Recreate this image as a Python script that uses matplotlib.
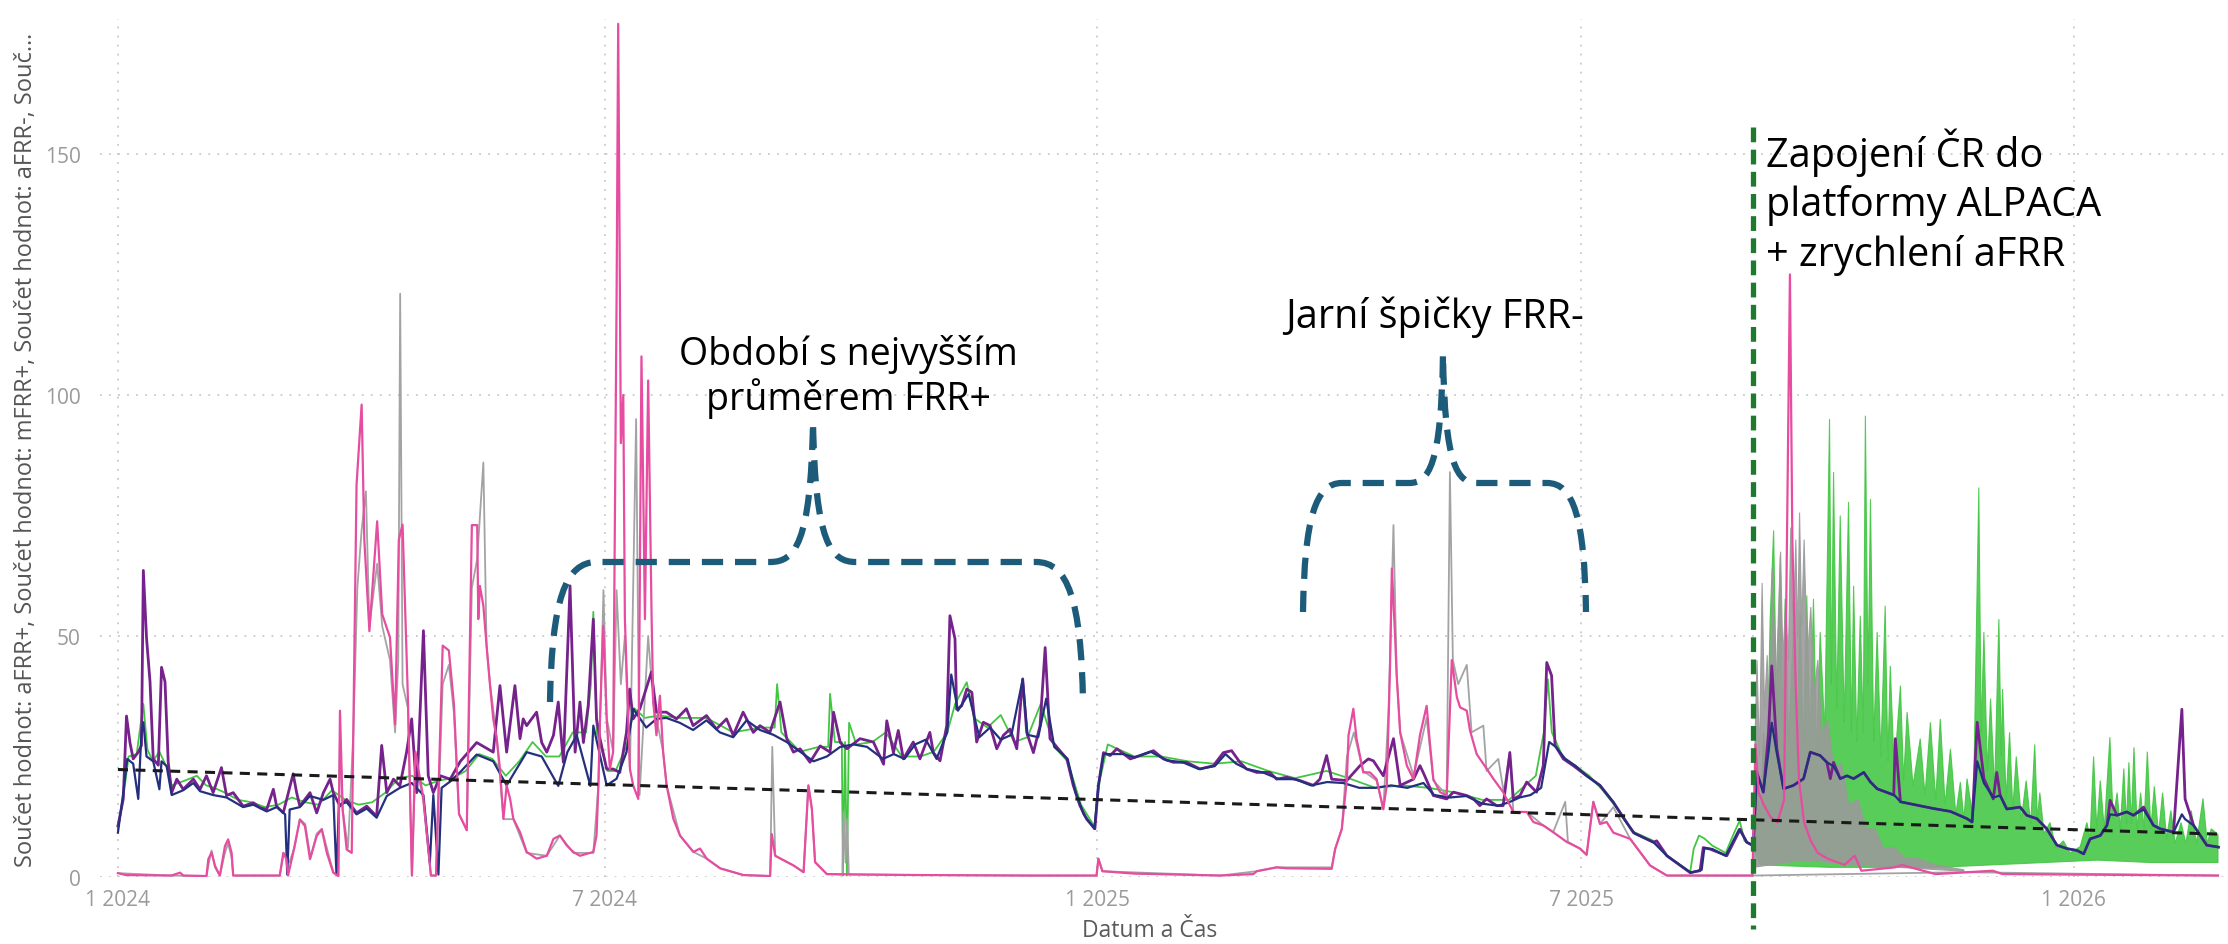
import matplotlib
matplotlib.use("Agg")
import matplotlib.pyplot as plt
import matplotlib.dates as mdates
import matplotlib.transforms as mtransforms
from matplotlib.path import Path
from matplotlib.patches import PathPatch
import numpy as np
import pandas as pd

plt.rcParams["font.family"] = ["Open Sans", "DejaVu Sans"]

START = pd.Timestamp("2024-01-01")

# (days since 1 Jan 2024, value)
purple = [
    (0, 10.6), (2.0, 16.2), (3.2, 33.4), (4.5, 27.9), (5.7, 24.5), (7.6, 25.9), (8.8, 27.3), (9.5, 63.6),
    (10.7, 49.5), (12.0, 40.5), (13.2, 24.5), (15.1, 23.2), (16.3, 43.5), (17.6, 40.5), (18.8, 23.8),
    (20.1, 17.5), (22.0, 20.3), (24.4, 18.2), (28.2, 20.3), (30.7, 18.2), (33.1, 21.0), (35.6, 17.5),
    (38.7, 22.7), (40.6, 16.9), (43.1, 17.5), (46.8, 14.7), (50.6, 15.4), (53.1, 14.4), (55.6, 14.0),
    (58.1, 18.2), (59.3, 14.7), (61.8, 13.3), (65.5, 21.4), (66.8, 17.5), (68.0, 14.7), (71.8, 17.5),
    (74.3, 13.3), (76.8, 17.5), (79.3, 20.3), (80.5, 17.5), (83.0, 14.7), (85.5, 16.1), (89.2, 13.3),
    (93.0, 14.7), (96.7, 12.6), (98.6, 27.3), (100.5, 17.5), (103.0, 20.3), (105.4, 18.9), (107.9, 25.9),
    (109.8, 32.8), (111.7, 17.5), (114.2, 51.1), (116.0, 21.0), (117.9, 17.5), (120.5, 21.0), (124.2, 20.3),
    (128.0, 24.0), (134.1, 27.9), (140.3, 25.9), (142.8, 39.7), (145.3, 25.9), (148.4, 39.7), (150.3, 28.7),
    (151.5, 32.8), (152.8, 31.4), (156.5, 34.2), (158.4, 27.9), (160.3, 25.9), (162.8, 29.4), (164.6, 36.3),
    (166.5, 23.8), (169.0, 60.4), (170.9, 25.9), (172.7, 36.3), (174.0, 27.9), (175.8, 35.6), (177.7, 53.5),
    (178.9, 32.8), (180.2, 28.7), (182.7, 22.4), (185.1, 22.4), (187.6, 21.7), (190.1, 30.0), (191.3, 39.0),
    (192.6, 32.8), (195.1, 34.9), (199.4, 42.5), (201.3, 34.2), (205.0, 34.2), (208.8, 32.8), (212.5, 34.9),
    (215.0, 31.4), (220.0, 33.5), (223.7, 30.7), (227.5, 32.8), (230.0, 29.4), (233.7, 34.2), (237.5, 30.0),
    (240.0, 31.4), (243.7, 30.0), (247.5, 36.3), (250.0, 28.7), (252.5, 25.9), (255.0, 26.6), (258.7, 23.8),
    (262.5, 27.2), (266.2, 25.9), (267.5, 34.2), (270.0, 27.9), (272.5, 26.6), (277.4, 28.7), (282.4, 28.0),
    (286.2, 23.4), (287.4, 32.4), (289.9, 25.8), (291.7, 30.4), (293.6, 24.5), (297.3, 28.0), (299.8, 24.5),
    (303.5, 30.0), (304.8, 25.8), (307.3, 24.1), (309.8, 31.4), (311.0, 54.2), (312.9, 49.4), (313.5, 34.8),
    (315.4, 35.5), (317.3, 39.0), (319.2, 38.3), (321.0, 28.0), (323.5, 32.1), (326.0, 31.4), (328.5, 26.6),
    (331.0, 29.4), (333.5, 30.7), (336.0, 26.6), (338.2, 41.1), (339.7, 30.0), (342.2, 25.8), (344.7, 31.4),
    (346.6, 47.6), (348.4, 28.7), (350.9, 27.0), (354.7, 24.5), (357.1, 19.0), (359.6, 14.8), (362.1, 12.0),
    (365.2, 10.0), (366.5, 19.0), (368.4, 25.8), (370.9, 25.2), (373.4, 26.6), (378.4, 24.5), (382.1, 25.2),
    (387.1, 26.2), (390.8, 24.5), (394.5, 23.8), (399.5, 23.8), (404.5, 22.4), (409.5, 23.1), (413.2, 25.8),
    (416.3, 26.2), (419.4, 23.8), (421.9, 22.4), (425.7, 21.7), (430.6, 21.7), (433.1, 20.3), (436.9, 20.7),
    (441.9, 20.0), (446.9, 19.0), (449.3, 20.3), (451.8, 25.2), (453.7, 20.3), (459.3, 20.0), (464.3, 23.1),
    (467.4, 24.5), (469.3, 24.1), (473.0, 21.0), (476.8, 28.7), (479.3, 19.0), (484.3, 20.3), (486.7, 23.1),
    (487.9, 21.7), (491.7, 16.9), (496.7, 16.2), (499.2, 17.6), (504.2, 16.9), (506.7, 16.2), (509.1, 14.8),
    (511.6, 16.2), (515.4, 14.8), (517.8, 14.8), (520.3, 25.8), (521.6, 16.2), (524.1, 16.9), (526.6, 19.7),
    (530.3, 17.6), (532.8, 23.1), (534.1, 44.5), (535.9, 41.8), (537.2, 27.3), (540.3, 24.5), (544.0, 23.1),
    (549.0, 21.0), (554.0, 19.0), (559.0, 15.5), (566.5, 9.2), (574.0, 7.2), (575.2, 7.5), (579.0, 4.4),
    (587.7, 0.9), (591.4, 1.3), (592.6, 6.1), (595.1, 5.8), (601.4, 4.4), (606.4, 9.9), (608.8, 7.2),
    (611.3, 6.5), (612.6, 21.7), (615.1, 17.6), (617.0, 30.0), (618.2, 43.8), (620.1, 26.6), (622.6, 18.3),
    (626.3, 19.0), (630.1, 20.4), (632.6, 25.9), (636.3, 25.2), (638.8, 23.8), (640.1, 20.4), (641.3, 23.8),
    (643.8, 20.4), (646.3, 21.0), (648.8, 20.4), (652.6, 21.7), (655.1, 19.7), (657.6, 18.3), (663.8, 17.0),
    (664.4, 28.7), (666.3, 15.6), (672.5, 14.9), (678.7, 14.2), (685.0, 13.6), (691.2, 12.1), (693.1, 11.4),
    (695.0, 32.1), (697.5, 20.4), (701.0, 16.2), (702.3, 21.7), (703.6, 16.9), (706.1, 14.1), (711.1, 14.5),
    (713.5, 12.8), (717.3, 12.1), (721.0, 10.0), (724.8, 6.6), (728.5, 5.9), (732.3, 5.5), (734.8, 4.8),
    (737.2, 7.9), (741.0, 8.6), (743.5, 10.7), (744.7, 15.9), (747.2, 12.8), (750.9, 13.5), (753.4, 12.8),
    (757.2, 14.5), (760.9, 10.7), (763.4, 10.0), (768.4, 9.3), (771.5, 34.8), (772.7, 16.2), (775.9, 10.7),
    (780.8, 6.6), (785.2, 6.2),
]

navy = [
    (0, 9.2), (2.0, 17.5), (3.5, 24.5), (5.7, 23.5), (7.6, 16.2), (8.8, 30.0), (9.5, 32.1), (10.7, 25.0),
    (13.2, 24.0), (15.5, 18.2), (16.3, 24.0), (18.2, 23.0), (20.1, 17.0), (24.4, 18.0), (28.2, 19.5),
    (30.7, 17.8), (35.6, 17.0), (40.6, 16.5), (46.8, 14.5), (50.6, 15.0), (55.6, 13.6), (59.3, 14.5),
    (62.5, 13.0), (63.3, 0.5), (64.2, 14.0), (68.0, 14.5), (71.8, 16.8), (76.8, 16.0), (80.5, 17.0),
    (81.7, 0.5), (82.6, 15.0), (85.5, 15.5), (89.2, 13.0), (93.0, 14.2), (96.7, 12.3), (100.5, 16.8),
    (105.4, 18.5), (109.8, 19.5), (114.2, 17.0), (116.6, 3.0), (117.9, 17.0), (119.8, 0.5), (121.0, 18.5),
    (124.2, 19.8), (128.0, 21.8), (134.1, 25.4), (140.3, 24.0), (145.3, 19.0), (152.8, 25.9), (158.4, 25.0),
    (164.6, 18.9), (168.0, 25.9), (171.5, 29.4), (176.6, 18.9), (177.7, 31.4), (182.7, 19.0), (186.4, 20.4),
    (190.1, 25.9), (192.6, 34.9), (197.5, 31.0), (201.3, 32.8), (205.0, 33.0), (210.0, 32.0), (215.0, 30.5),
    (220.0, 32.5), (225.0, 30.0), (230.0, 29.0), (235.0, 32.5), (240.0, 30.5), (245.0, 29.5), (250.0, 28.0),
    (255.0, 26.0), (260.0, 24.0), (265.0, 25.0), (270.0, 27.0), (275.0, 27.5), (280.0, 27.0), (286.0, 24.5),
    (290.0, 25.5), (294.0, 24.5), (298.0, 27.5), (302.0, 28.5), (306.0, 24.5), (310.0, 30.0), (311.5, 42.0),
    (314.0, 34.5), (318.0, 38.0), (322.0, 29.0), (326.0, 31.0), (330.0, 28.5), (334.0, 29.5), (338.2, 41.0),
    (340.0, 29.5), (344.0, 29.0), (347.0, 37.0), (350.0, 27.0), (355.0, 24.5), (358.0, 17.5), (361.0, 13.0),
    (365.0, 10.0), (366.5, 19.0), (368.5, 25.5), (372.0, 25.5), (376.0, 25.5), (380.0, 24.8), (386.0, 26.0),
    (392.0, 24.2), (398.0, 23.8), (404.0, 22.4), (410.0, 23.0), (414.0, 25.5), (418.0, 23.5), (422.0, 22.4),
    (428.0, 21.7), (434.0, 20.3), (440.0, 20.3), (446.0, 19.0), (452.0, 19.7), (458.0, 19.5), (464.0, 18.5),
    (470.0, 18.5), (476.0, 19.0), (482.0, 18.5), (488.0, 19.5), (492.0, 17.0), (498.0, 16.5), (504.0, 16.8),
    (510.0, 15.2), (516.0, 14.8), (520.0, 15.5), (524.0, 16.5), (528.0, 17.0), (532.0, 18.5), (535.0, 28.0),
    (537.5, 27.0), (541.0, 24.5), (545.0, 23.0), (549.0, 21.0), (554.0, 19.0), (559.0, 15.5), (563.0, 12.0),
    (567.0, 9.0), (574.0, 7.2), (579.0, 4.4), (588.0, 0.9), (592.0, 1.5), (593.0, 6.0), (596.0, 5.8),
    (601.0, 4.4), (606.0, 9.9), (609.0, 7.2), (611.3, 6.5), (612.6, 21.7), (615.0, 17.6), (617.0, 26.0),
    (618.2, 32.0), (620.0, 26.0), (622.6, 18.3), (626.3, 19.0), (630.1, 20.4), (632.6, 25.9), (636.3, 25.2),
    (638.8, 23.8), (641.3, 23.0), (643.8, 20.4), (646.3, 21.0), (648.8, 20.4), (652.6, 21.7), (655.1, 19.7),
    (657.6, 18.3), (664.0, 17.0), (666.3, 15.6), (672.5, 14.9), (678.7, 14.2), (685.0, 13.6), (691.2, 12.1),
    (693.1, 11.4), (695.0, 24.0), (697.5, 19.5), (701.0, 16.5), (703.6, 16.9), (706.0, 14.1), (711.0, 14.5),
    (713.5, 12.8), (717.3, 12.1), (721.0, 10.0), (724.8, 6.6), (728.5, 5.9), (732.3, 5.5), (734.8, 4.8),
    (737.2, 7.9), (741.0, 8.6), (743.5, 10.7), (744.7, 13.0), (747.2, 12.8), (750.9, 13.5), (753.4, 12.8),
    (757.2, 14.0), (760.9, 10.7), (763.4, 10.0), (768.4, 9.3), (771.5, 13.0), (772.7, 12.0), (775.9, 10.7),
    (780.8, 6.6), (785.2, 6.2),
]

green = [
    (0, 10.0), (2.0, 16.5), (4.0, 25.0), (7.0, 25.5), (9.5, 35.9), (11.0, 26.5), (13.0, 24.0), (15.5, 26.0),
    (18.5, 22.5), (20.1, 19.0), (25.0, 20.0), (29.5, 21.0), (33.0, 19.0), (36.0, 18.5), (40.0, 17.5),
    (45.0, 16.0), (50.0, 15.5), (55.0, 14.5), (60.0, 15.0), (65.0, 16.5), (70.0, 15.5), (75.0, 15.0),
    (80.0, 18.0), (85.0, 16.0), (90.0, 15.0), (95.0, 15.5), (100.0, 17.5), (105.0, 20.5), (110.0, 21.0),
    (115.0, 19.0), (120.0, 20.0), (125.0, 20.5), (130.0, 22.0), (135.0, 25.5), (140.0, 24.5), (145.0, 21.0),
    (150.0, 24.0), (155.0, 28.0), (160.0, 25.0), (165.0, 25.0), (170.0, 30.0), (175.0, 30.0), (176.8, 40.0),
    (177.7, 55.0), (179.0, 30.0), (183.0, 22.0), (186.0, 22.0), (190.0, 27.0), (193.0, 35.0), (197.0, 33.0),
    (202.0, 33.5), (210.0, 33.0), (220.0, 33.0), (230.0, 30.0), (240.0, 31.0), (245.5, 31.0), (246.4, 40.0),
    (248.0, 30.0), (255.0, 26.0), (262.0, 27.0), (265.5, 27.0), (266.2, 38.0), (268.0, 28.0), (270.6, 28.0),
    (271.0, 0.3), (271.8, 28.0), (272.5, 0.3), (273.3, 32.0), (276.0, 27.5), (282.0, 28.0), (287.0, 30.0),
    (293.0, 25.0), (300.0, 25.0), (305.0, 26.0), (310.0, 30.0), (313.0, 36.0), (317.3, 40.4), (320.0, 33.0),
    (325.0, 31.0), (330.0, 33.6), (335.0, 28.0), (340.0, 29.0), (345.0, 36.0), (350.0, 27.0), (355.0, 24.0),
    (360.0, 15.0), (365.0, 10.5), (367.0, 20.0), (370.0, 27.5), (380.0, 25.0), (390.0, 25.0), (400.0, 24.0),
    (410.0, 23.5), (420.0, 24.0), (430.0, 22.0), (440.0, 20.5), (451.8, 22.0), (460.0, 20.5), (470.0, 18.5),
    (480.0, 19.0), (490.0, 18.5), (500.0, 17.5), (510.0, 16.0), (520.0, 16.0), (525.0, 18.5), (530.0, 21.0),
    (533.0, 30.0), (534.5, 41.0), (536.0, 30.0), (540.0, 25.0), (545.0, 23.0), (550.0, 21.0), (555.0, 18.0),
    (560.0, 14.5), (566.0, 9.5), (574.0, 7.5), (579.0, 4.5), (587.7, 0.9), (589.0, 5.8), (591.0, 8.6),
    (593.0, 8.0), (596.0, 6.5), (601.0, 5.0), (604.0, 9.0), (606.2, 11.7), (608.0, 7.5), (611.2, 6.5),
]

# after the switch the aFRR+ series swings daily: upper and lower envelope
green_hi = [
    (611.2, 6.5), (612.6, 22.0), (614.0, 12.0), (615.1, 30.0), (616.3, 18.0), (617.6, 53.5), (618.9, 71.9),
    (620.0, 35.0), (621.4, 66.7), (622.3, 30.0), (623.2, 57.7), (624.5, 28.0), (626.3, 50.8), (627.5, 25.0),
    (628.8, 54.9), (630.0, 26.0), (631.3, 58.4), (632.5, 27.0), (633.8, 57.7), (635.0, 25.0), (636.3, 50.8),
    (638.0, 30.0), (639.8, 95.0), (640.5, 40.0), (641.3, 84.0), (642.5, 35.0), (643.8, 75.0), (645.3, 32.0),
    (646.9, 77.8), (648.0, 30.0), (648.8, 60.4), (650.0, 28.0), (651.3, 54.2), (652.4, 30.0), (653.2, 95.7),
    (654.2, 40.0), (655.1, 78.4), (656.3, 28.0), (657.6, 50.8), (659.0, 25.0), (660.6, 56.3), (661.6, 24.0),
    (662.5, 43.8), (664.0, 22.0), (666.3, 39.7), (667.5, 20.0), (668.8, 34.2), (671.0, 19.0), (673.7, 28.7),
    (675.5, 17.0), (677.5, 32.1), (679.5, 16.0), (681.2, 32.8), (683.0, 15.0), (685.0, 26.6), (687.0, 13.0),
    (688.7, 19.7), (690.0, 12.0), (691.2, 20.4), (693.5, 12.0), (695.6, 80.8), (696.5, 30.0), (697.5, 50.8),
    (698.8, 22.0), (700.0, 37.0), (701.5, 18.0), (703.1, 53.5), (704.0, 25.0), (704.5, 39.0), (705.8, 16.0),
    (707.1, 30.0), (708.3, 14.0), (709.6, 25.0), (711.5, 12.0), (713.3, 20.0), (715.0, 11.0), (716.5, 27.5),
    (717.5, 12.0), (718.4, 17.5), (720.0, 9.0), (722.2, 11.3), (724.5, 6.0), (727.2, 7.5), (729.7, 5.0),
    (733.5, 6.3), (736.0, 11.3), (737.2, 8.0), (738.5, 25.0), (739.7, 10.0), (741.0, 20.0), (742.5, 10.0),
    (744.6, 29.0), (745.8, 12.0), (747.3, 17.5), (748.5, 10.0), (749.8, 22.5), (750.8, 11.0), (751.7, 23.8),
    (752.6, 11.0), (753.6, 26.9), (754.8, 10.0), (756.1, 17.5), (757.3, 10.0), (758.6, 26.0), (759.9, 10.0),
    (761.2, 18.8), (762.8, 9.0), (764.3, 17.5), (765.8, 8.0), (767.4, 13.8), (769.0, 7.0), (771.2, 11.3),
    (773.0, 7.0), (775.0, 13.8), (777.0, 7.0), (779.4, 16.3), (781.0, 7.0), (782.5, 10.0), (785.0, 8.8),
]
green_lo = [(611.2, 6.0), (614.0, 2.5), (640.0, 2.0), (680.0, 2.0), (700.0, 2.5), (720.0, 3.0),
            (740.0, 3.5), (760.0, 3.0), (785.0, 3.0)]

gray = [
    (0, 0.8), (20.0, 0.3), (33.1, 0.2), (34.0, 3.0), (35.0, 5.5), (36.3, 2.0), (38.1, 0.3), (40.0, 5.0),
    (41.2, 7.0), (42.5, 4.0), (43.1, 0.3), (60.5, 0.3), (62.0, 5.0), (64.0, 3.0), (66.0, 6.0), (68.0, 12.0),
    (70.0, 11.0), (72.0, 4.0), (74.3, 9.0), (76.2, 10.0), (78.1, 6.0), (80.5, 1.0), (82.4, 0.3), (83.0, 30.0),
    (84.0, 14.0), (86.0, 6.0), (88.0, 30.0), (89.5, 60.0), (91.1, 72.0), (92.7, 80.0), (94.0, 52.0),
    (96.9, 65.0), (98.8, 52.0), (101.7, 45.0), (103.6, 30.0), (104.8, 45.0), (105.5, 121.0), (106.4, 40.0),
    (108.4, 35.0), (109.9, 0.3), (111.2, 24.0), (114.1, 16.0), (117.0, 0.3), (118.9, 0.3), (121.4, 40.0),
    (123.7, 44.0), (125.6, 34.0), (127.5, 13.0), (130.4, 9.7), (132.3, 60.0), (134.3, 66.0), (136.6, 86.0),
    (137.8, 48.0), (139.1, 40.0), (141.6, 29.0), (144.1, 12.0), (147.8, 12.0), (152.8, 5.0), (160.3, 4.4),
    (165.2, 8.6), (170.2, 5.0), (177.7, 5.0), (179.6, 19.0), (181.5, 59.5), (182.7, 33.0), (185.1, 26.0),
    (186.4, 59.5), (188.0, 40.0), (189.5, 50.0), (191.4, 22.0), (193.7, 95.0), (195.0, 17.0), (198.2, 50.0),
    (200.1, 36.0), (203.8, 26.0), (205.1, 19.0), (210.1, 8.6), (215.1, 5.2), (220.1, 3.8), (225.1, 1.8),
    (233.8, 0.4), (243.8, 0.2), (244.6, 27.0), (245.7, 4.4), (252.5, 2.4), (256.3, 1.0), (258.1, 19.0),
    (259.4, 14.0), (260.6, 3.0), (265.0, 0.6), (270.8, 0.5), (271.2, 13.5), (272.0, 3.0), (272.6, 12.0),
    (273.2, 0.5), (340.0, 0.3), (365.8, 0.3), (366.5, 3.8), (368.0, 1.2), (412.0, 0.3), (425.7, 1.2),
    (433.1, 2.0), (453.7, 2.0), (455.0, 5.8), (457.5, 10.0), (459.4, 25.0), (462.0, 30.0), (465.5, 22.0),
    (470.5, 20.0), (473.0, 14.0), (475.0, 35.0), (476.8, 73.0), (478.0, 42.0), (479.3, 30.0), (484.3, 21.0),
    (489.2, 33.0), (491.7, 20.0), (496.7, 17.0), (497.9, 84.0), (499.0, 45.0), (501.0, 40.0), (504.2, 44.0),
    (506.0, 30.0), (510.4, 31.4), (511.6, 22.0), (516.0, 24.5), (518.0, 17.6), (520.3, 26.0), (521.6, 13.5),
    (526.6, 13.5), (532.8, 10.7), (536.5, 9.3), (541.0, 15.6), (542.0, 7.3), (546.5, 5.9), (549.0, 4.6),
    (551.5, 15.6), (554.0, 11.0), (559.0, 14.5), (565.3, 7.9), (572.7, 2.4), (579.0, 0.3), (611.0, 0.3),
    (690.0, 1.0), (785.0, 0.3),
]
gray_hi = [
    (611.2, 2.0), (612.0, 30.0), (612.7, 45.0), (613.6, 25.0), (614.6, 61.0), (615.5, 35.0), (616.5, 46.0),
    (617.4, 30.0), (618.4, 64.0), (619.8, 40.0), (621.5, 67.5), (622.4, 45.0), (623.4, 57.5), (624.4, 45.0),
    (625.3, 72.5), (626.2, 50.0), (627.2, 70.0), (627.9, 50.0), (628.6, 75.6), (629.4, 52.0), (630.3, 70.0),
    (631.5, 45.0), (632.8, 56.0), (634.0, 38.0), (635.4, 45.0), (637.0, 30.0), (639.1, 32.5), (641.5, 22.0),
    (644.2, 23.7), (647.0, 15.0), (650.5, 16.0), (653.5, 10.0), (656.7, 10.0), (660.0, 6.0), (664.3, 6.0),
    (668.0, 4.0), (673.1, 3.8), (679.4, 2.5), (690.0, 1.5),
]
gray_lo = [(611.2, 2.0), (630.0, 3.5), (650.0, 2.5), (690.0, 1.2)]

pink = [
    (0, 0.8), (3.0, 0.4), (20.0, 0.3), (23.2, 0.9), (24.5, 0.3), (33.1, 0.2), (33.8, 3.7), (35.0, 5.1),
    (36.3, 2.3), (38.1, 0.3), (40.0, 6.4), (41.2, 7.8), (42.5, 5.0), (43.1, 0.3), (60.5, 0.3), (61.8, 5.0),
    (63.0, 3.7), (63.6, 0.3), (65.5, 5.0), (68.0, 11.9), (69.9, 10.6), (71.8, 3.7), (74.3, 8.5), (76.2, 9.9),
    (78.1, 5.0), (80.5, 0.9), (82.4, 0.2), (83.0, 34.5), (84.0, 14.0), (85.5, 5.7), (87.4, 5.0), (89.2, 81.4),
    (91.1, 98.0), (92.1, 70.0), (94.0, 51.0), (96.9, 73.8), (98.8, 54.5), (101.7, 49.7), (103.6, 31.7),
    (105.0, 70.0), (106.4, 73.1), (108.4, 37.0), (109.9, 0.3), (111.2, 26.0), (114.1, 16.6), (117.0, 0.3),
    (118.9, 0.3), (121.4, 48.0), (123.7, 47.0), (125.6, 35.9), (127.5, 13.1), (130.4, 9.7), (132.3, 73.0),
    (134.3, 73.0), (134.7, 53.5), (135.3, 60.4), (136.6, 56.3), (137.8, 48.0), (139.1, 39.7), (140.3, 32.8),
    (141.6, 28.7), (142.8, 22.4), (144.1, 12.1), (145.3, 19.0), (146.6, 16.2), (147.8, 12.1), (150.3, 9.3),
    (152.8, 5.2), (156.5, 3.8), (160.3, 4.4), (162.8, 7.9), (165.2, 8.6), (167.7, 6.6), (170.2, 5.2),
    (172.7, 4.4), (177.7, 5.2), (178.9, 8.6), (179.6, 19.0), (180.2, 32.8), (181.4, 52.1), (182.7, 32.8),
    (183.9, 22.4), (185.1, 25.9), (186.4, 120.0), (187.0, 177.0), (188.0, 90.0), (188.9, 100.0), (189.5, 53.5),
    (191.4, 22.4), (192.6, 19.0), (194.5, 16.2), (195.7, 108.0), (197.0, 53.5), (198.2, 103.0), (199.5, 53.5),
    (200.1, 36.3), (201.3, 29.4), (202.6, 37.6), (203.8, 25.9), (205.1, 19.0), (207.6, 12.1), (210.1, 8.6),
    (215.1, 5.2), (217.6, 5.9), (220.1, 3.8), (225.1, 1.8), (233.8, 0.4), (243.8, 0.2), (244.4, 8.9),
    (245.7, 4.4), (252.5, 2.4), (256.3, 1.0), (258.1, 19.0), (259.4, 14.2), (260.6, 3.1), (265.0, 0.6),
    (300.0, 0.4), (340.0, 0.3), (365.8, 0.3), (366.5, 3.8), (368.0, 1.2), (380.0, 0.7), (412.0, 0.3),
    (424.4, 0.6), (425.7, 1.2), (433.1, 2.0), (437.0, 1.8), (453.7, 1.7), (455.0, 5.8), (457.5, 10.0),
    (459.4, 20.4), (460.0, 29.4), (461.8, 34.9), (463.0, 28.7), (465.5, 21.7), (468.0, 21.7), (470.5, 20.3),
    (473.0, 14.1), (474.3, 19.0), (475.5, 43.2), (476.2, 64.0), (477.4, 50.0), (478.0, 41.8), (479.3, 30.0),
    (481.8, 23.1), (484.3, 20.3), (486.7, 29.4), (489.2, 35.5), (490.5, 27.3), (491.7, 20.3), (494.2, 17.6),
    (496.7, 16.9), (497.9, 35.0), (498.6, 45.0), (500.5, 37.3), (501.7, 35.2), (504.2, 34.5), (505.4, 30.4),
    (507.9, 25.5), (511.6, 22.5), (514.1, 20.4), (517.8, 17.6), (521.6, 13.5), (526.6, 13.5), (529.1, 11.4),
    (532.8, 10.7), (536.5, 9.3), (541.5, 7.3), (546.5, 5.9), (549.0, 4.6), (551.5, 15.6), (554.0, 11.0),
    (556.5, 11.4), (559.0, 9.2), (565.3, 7.9), (572.7, 2.4), (579.0, 0.3), (611.0, 0.3), (612.1, 27.5),
    (613.3, 17.5), (615.2, 15.0), (617.7, 12.5), (620.3, 11.3), (622.8, 16.0), (624.3, 91.0), (625.0, 125.0),
    (625.9, 70.0), (627.2, 39.0), (628.4, 20.0), (630.3, 11.3), (632.8, 7.5), (635.4, 5.0), (639.1, 3.8),
    (645.4, 2.5), (649.2, 4.4), (651.7, 1.3), (664.3, 2.0), (666.8, 2.5), (679.4, 0.6), (700.8, 1.3),
    (704.5, 0.6), (785.0, 0.3),
]

trend = [(0, 22.3), (785, 8.9)]
switch_day = 611.2

x_ticks = ["2024-01-01", "2024-07-01", "2025-01-01", "2025-07-01", "2026-01-01"]
y_ticks = [0, 50, 100, 150]

C_GREEN = "#42C642"
C_NAVY = "#24307E"
C_PURPLE = "#76228C"
C_GRAY = "#A3A3A3"
C_PINK = "#E64CA0"
C_BRACE = "#1D5B7B"

W, H = 2228, 945


def xy(series):
    d, v = zip(*series)
    return START + pd.to_timedelta(np.array(d, float), unit="D"), np.array(v, float)


fig = plt.figure(figsize=(W / 100, H / 100), dpi=100)
ax = fig.add_axes([100 / W, 1 - 878 / H, (2226 - 100) / W, (878 - 20) / H])
px = mtransforms.Affine2D().scale(1 / W, -1 / H).translate(0, 1) + fig.transFigure

# lines
x, y = xy(green)
ax.plot(x, y, color=C_GREEN, lw=1.3, zorder=2)
xh, yh = xy(green_hi)
xl, yl = xy(green_lo)
ax.fill(np.concatenate([mdates.date2num(xh), mdates.date2num(xl)[::-1]]),
        np.concatenate([yh, yl[::-1]]), color=C_GREEN, alpha=0.88, lw=0.8, zorder=2)

x, y = xy(gray)
ax.plot(x, y, color=C_GRAY, lw=1.3, zorder=3)
xh, yh = xy(gray_hi)
xl, yl = xy(gray_lo)
ax.fill(np.concatenate([mdates.date2num(xh), mdates.date2num(xl)[::-1]]),
        np.concatenate([yh, yl[::-1]]), color="#9A9A9A", alpha=0.9, lw=0.8, zorder=3)

x, y = xy(purple)
ax.plot(x, y, color=C_PURPLE, lw=2.0, zorder=4)
x, y = xy(navy)
ax.plot(x, y, color=C_NAVY, lw=1.6, zorder=5)
x, y = xy(pink)
ax.plot(x, y, color=C_PINK, lw=1.6, zorder=6)

x, y = xy(trend)
ax.plot(x, y, color="#1a1a1a", lw=2.2, linestyle=(0, (3.3, 2.4)), zorder=7)

# ALPACA switch marker
sx = START + pd.Timedelta(days=switch_day)
ax.plot([sx, sx], [155.6, -10.8], color="#1E7B2E", lw=3.8, linestyle=(0, (2.8, 1.4)),
        zorder=8, clip_on=False, solid_capstyle="butt", dash_capstyle="butt")

ax.set_xlim(START + pd.Timedelta(days=-6.7), START + pd.Timedelta(days=788))
ax.set_ylim(0, 178)
ax.set_xticks(pd.to_datetime(x_ticks))
ax.set_xticklabels([f"{d.month} {d.year}" for d in pd.to_datetime(x_ticks)])
ax.set_yticks(y_ticks)
ax.tick_params(length=0, labelsize=15, labelcolor="#9A9A9A")
ax.tick_params(axis="y", pad=14)
ax.tick_params(axis="x", pad=9)
ax.grid(color="#C9C9C9", linestyle=(0, (1, 4)), linewidth=1.3, zorder=0)
ax.set_axisbelow(True)
for s in ax.spines.values():
    s.set_visible(False)

fig.text(1150 / W, 1 - 931 / H, "Datum a Čas", ha="center", va="center", fontsize=16.5, color="#5A5A5A")
fig.text(26 / W, 1 - 450 / H,
         "Součet hodnot: aFRR+, Součet hodnot: mFRR+, Součet hodnot: aFRR-, Souč…",
         rotation=90, ha="center", va="center", fontsize=17, color="#555555")


def brace(x_l, x_r, x_t, y_l, y_t, y_b, cw, tw):
    h = y_b - y_l
    v = y_l - y_t
    verts = [
        (x_l, y_b), (x_l + 0.04 * cw, y_l + 0.27 * h), (x_l + 0.32 * cw, y_l), (x_l + cw, y_l),
        (x_t - tw, y_l),
        (x_t - 0.42 * tw, y_l), (x_t - 0.05 * tw, y_l - 0.13 * v), (x_t, y_t),
        (x_t + 0.05 * tw, y_l - 0.13 * v), (x_t + 0.42 * tw, y_l), (x_t + tw, y_l),
        (x_r - cw, y_l),
        (x_r - 0.32 * cw, y_l), (x_r - 0.04 * cw, y_l + 0.27 * h), (x_r, y_b),
    ]
    codes = [Path.MOVETO] + [Path.CURVE4] * 3 + [Path.LINETO] + [Path.CURVE4] * 6 + \
            [Path.LINETO] + [Path.CURVE4] * 3
    patch = PathPatch(Path(verts, codes), transform=px, facecolor="none", edgecolor=C_BRACE,
                      lw=4.5, linestyle=(0, (3.4, 1.9)), capstyle="butt", zorder=9)
    fig.add_artist(patch)


brace(550, 1083, 813, 563, 423, 703, 47, 43)
brace(1303, 1586, 1443, 484, 355, 613, 39, 34)

tkw = dict(transform=px, color="black", va="center")
fig.text(848, 354, "Období s nejvyšším", ha="center", fontsize=27, **tkw)
fig.text(848, 399, "průměrem FRR+", ha="center", fontsize=27, **tkw)
fig.text(1435, 317, "Jarní špičky FRR-", ha="center", fontsize=28.5, **tkw)
fig.text(1766, 153, "Zapojení ČR do", ha="left", fontsize=28.5, **tkw)
fig.text(1766, 205, "platformy ALPACA", ha="left", fontsize=28.5, **tkw)
fig.text(1766, 256, "+ zrychlení aFRR", ha="left", fontsize=28.5, **tkw)

fig.savefig("out.png", dpi=100, facecolor="white")
